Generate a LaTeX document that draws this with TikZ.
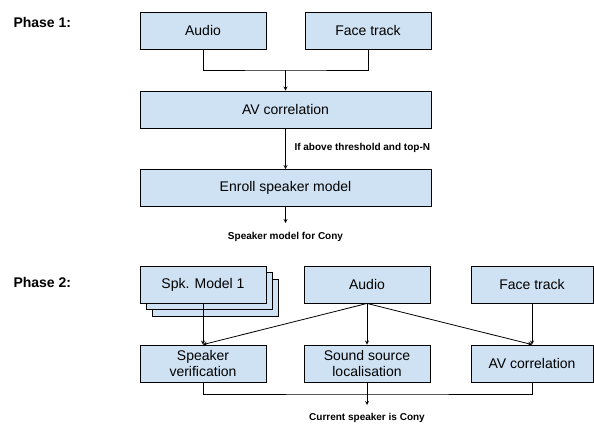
\documentclass[tikz,border=0pt]{standalone}
\usepackage{fontspec}
\setmainfont{Liberation Sans}
\definecolor{boxblue}{HTML}{CFE2F3}
\begin{document}
\begin{tikzpicture}[x=1pt,y=-1pt,>=stealth,
  box/.style={draw=black,line width=0.9pt,fill=boxblue,minimum width=126pt,
    minimum height=37pt,inner sep=0pt,align=center,
    font=\fontsize{14}{16.5}\selectfont},
  widebox/.style={box,minimum width=291pt},
  phase/.style={anchor=west,font=\fontsize{14}{16}\selectfont\bfseries},
  note/.style={font=\fontsize{10}{12}\selectfont\bfseries},
  link/.style={line width=0.8pt}]
  \useasboundingbox (0,0) rectangle (594,424);
  % phase 1
  \node[phase] (ph1) at (10,22) {Phase 1:};
  \node[box] (audA) at (203,30.5) {Audio};
  \node[box] (faceA) at (368,30.5) {Face track};
  \node[widebox] (avA) at (285.5,109.5) {AV correlation};
  \node[widebox] (enroll) at (285.5,188) {Enroll speaker model};
  \node[note,anchor=west] (thr) at (291,148) {If above threshold and top-N};
  \node[note] (out1) at (285.5,237) {Speaker model for Cony};
  \coordinate (j1) at (285.5,70);
  \coordinate (e1) at (285.5,223);
  \draw[link] (audA.south) |- (j1) -| (faceA.south);
  \draw[link,->] (j1) -- (avA.north);
  \draw[link,->] (avA.south) -- (enroll.north);
  \draw[link,->] (enroll.south) -- (e1);
  % phase 2
  \node[phase] (ph2) at (10,282) {Phase 2:};
  \node[box] (spkc) at (215,297.5) {};
  \node[box] (spkb) at (209,291) {};
  \node[box] (spk) at (203,284.5) {Spk. Model 1};
  \node[box] (audB) at (367,284.5) {Audio};
  \node[box,minimum width=122pt] (faceB) at (532,284.5) {Face track};
  \node[box] (sv) at (203,363.5) {Speaker\\verification};
  \node[box] (ssl) at (367,363.5) {Sound source\\localisation};
  \node[box,minimum width=122pt] (avB) at (532,363.5) {AV correlation};
  \node[note] (out2) at (367,418) {Current speaker is Cony};
  \coordinate (j2) at (367,394);
  \coordinate (e2) at (367,405);
  \draw[link,->] (spk.south) -- (sv.north);
  \foreach \t in {sv,ssl,avB}
    \draw[link,->] (audB.south) -- (\t.north);
  \draw[link,->] (faceB.south) -- (avB.north);
  \draw[link] (sv.south) |- (j2) -| (avB.south);
  \draw[link,->] (ssl.south) -- (e2);
\end{tikzpicture}
\end{document}
